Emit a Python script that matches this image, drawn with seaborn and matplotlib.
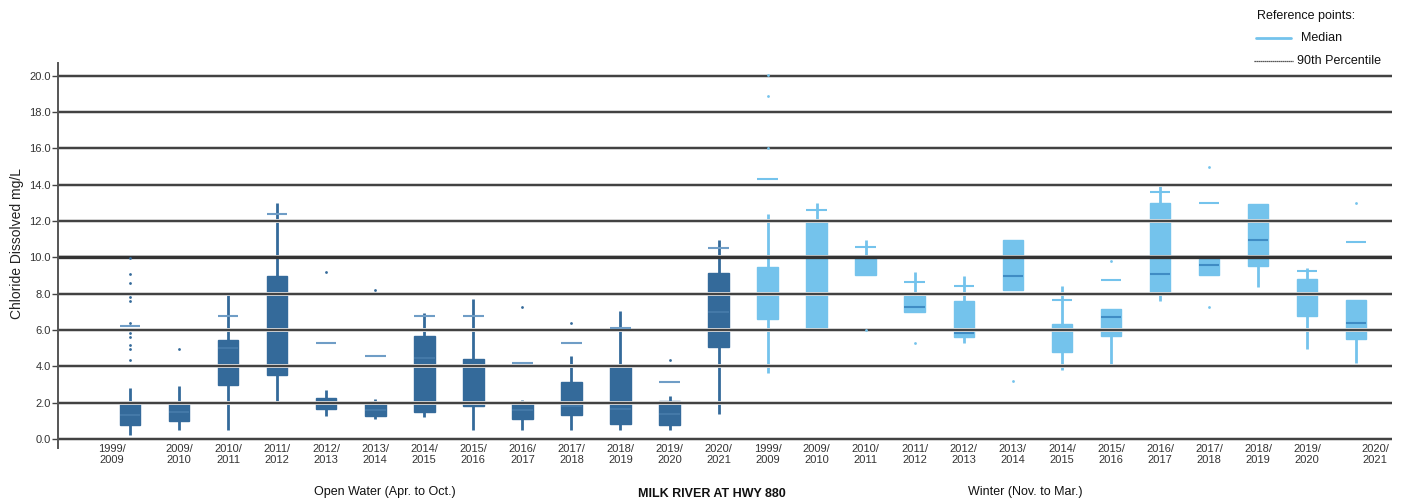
import numpy as np
import pandas as pd
import matplotlib
matplotlib.use("Agg")
import matplotlib.pyplot as plt
import matplotlib.transforms as mtransforms
from matplotlib.lines import Line2D
import seaborn as sns

# ---- data -------------------------------------------------------------
season_labels = ["1999/\n2009", "2009/\n2010", "2010/\n2011", "2011/\n2012",
                 "2012/\n2013", "2013/\n2014", "2014/\n2015", "2015/\n2016",
                 "2016/\n2017", "2017/\n2018", "2018/\n2019", "2019/\n2020",
                 "2020/\n2021"]

# Open water (Apr. to Oct.) summaries: whisker low, Q1, median, Q3, whisker high
ow_lo = [0.24, 0.48, 0.48, 2.02, 1.28, 1.10, 1.19, 0.48, 0.48, 0.48, 0.48, 0.48, 1.39]
ow_q1 = [0.79, 1.00, 2.99, 3.50, 1.67, 1.25, 1.47, 1.80, 1.12, 1.34, 0.84, 0.75, 5.05]
ow_med = [1.30, 1.50, 5.00, 6.00, 2.00, 1.60, 4.46, 2.00, 1.60, 1.80, 1.67, 1.38, 7.00]
ow_q3 = [2.04, 1.98, 5.43, 8.95, 2.26, 2.04, 5.69, 4.42, 1.94, 3.14, 4.06, 2.07, 9.14]
ow_hi = [2.80, 2.94, 7.94, 12.99, 2.68, 2.20, 6.94, 7.71, 2.17, 4.55, 7.03, 2.35, 10.97]
ow_p90 = [6.22, np.nan, 6.75, 12.39, 5.28, 4.59, 6.79, 6.75, 4.18, 5.28, 6.13, 3.16, 10.51]
ow_outliers = {0: [4.37, 4.97, 5.19, 5.60, 5.83, 6.39, 7.58, 7.80, 8.59, 9.10, 9.96],
               1: [4.97], 4: [9.17], 5: [8.18], 8: [7.27], 9: [6.39], 11: [4.37]}

# Winter (Nov. to Mar.) summaries
wi_lo = [3.63, 6.02, 9.00, 6.99, 5.28, 8.22, 3.78, 4.00, 7.58, 9.00, 8.37, 4.97, 4.18]
wi_q1 = [6.61, 6.02, 9.00, 6.99, 5.61, 8.22, 4.79, 5.69, 8.09, 9.00, 9.50, 6.79, 5.50]
wi_med = [8.00, 10.00, 9.95, 7.27, 5.83, 8.99, 6.00, 6.70, 9.10, 9.56, 10.97, 8.00, 6.39]
wi_q3 = [9.47, 11.98, 9.95, 7.85, 7.58, 10.94, 6.35, 7.16, 12.99, 9.93, 12.95, 8.81, 7.67]
wi_hi = [12.39, 12.99, 10.97, 9.17, 8.95, 10.94, 8.44, 7.16, 13.94, 9.93, 12.95, 9.41, 7.67]
wi_p90 = [14.31, 12.62, 10.57, 8.64, 8.40, np.nan, 7.67, 8.77, 13.58, 12.99, np.nan, 9.27, 10.86]
wi_outliers = {0: [16.00, 18.90, 20.05], 2: [5.98], 3: [5.28], 5: [3.17],
               7: [9.78], 9: [14.97, 7.27], 12: [12.99]}

DARK = "#346a9a"
DARK_MED = "#4479a8"
DARK_P90 = "#6f9dc6"
LIGHT = "#74c3ec"
LIGHT_MED = "#3f8cc4"

# ---- figure -----------------------------------------------------------
sns.set_theme(style="white")
plt.rcParams["font.family"] = ["Liberation Sans", "DejaVu Sans"]

fig = plt.figure(figsize=(14.06, 5.04), dpi=100)
ax = fig.add_axes([58 / 1406, 56 / 504, (1392 - 58) / 1406, (448 - 63) / 504])

n = len(season_labels)
groups = [
    (np.arange(n), ow_lo, ow_q1, ow_med, ow_q3, ow_hi, ow_p90, ow_outliers,
     DARK, DARK_MED, DARK_P90),
    (np.arange(n) + n, wi_lo, wi_q1, wi_med, wi_q3, wi_hi, wi_p90, wi_outliers,
     LIGHT, LIGHT_MED, LIGHT),
]

for pos, lo, q1, med, q3, hi, p90, outl, col, medcol, p90col in groups:
    rows = []
    for p, a, b, c, d, e in zip(pos, lo, q1, med, q3, hi):
        for v in (a, b, c, d, e):
            rows.append({"pos": p, "value": v})
    df = pd.DataFrame(rows)
    sns.boxplot(data=df, x="pos", y="value", native_scale=True, ax=ax,
                color=col, linecolor=col, saturation=1, width=0.42,
                whis=(0, 100), showcaps=False, showfliers=False, linewidth=1,
                whiskerprops={"linewidth": 2},
                medianprops={"color": medcol, "linewidth": 1.5})
    # 90th percentile reference marks
    p90 = np.asarray(p90, dtype=float)
    ok = ~np.isnan(p90)
    ax.hlines(p90[ok], pos[ok] - 0.21, pos[ok] + 0.21, colors=p90col,
              linewidth=1.5, zorder=4)
    # outlying samples
    ox = [pos[i] for i, vals in outl.items() for _ in vals]
    oy = [v for vals in outl.values() for v in vals]
    ax.scatter(ox, oy, s=4, color=col, linewidths=0, zorder=4)

# horizontal reference grid drawn over the boxes
yticks = np.arange(0, 20.1, 2.0)
for y in yticks:
    ax.axhline(y, color="#d0d0d0", lw=2.8, zorder=2.4)
    ax.axhline(y, color="#333333", lw=2.4 if y == 10 else 1.3, zorder=2.5)

ax.set_xlim(-1.468, 25.73)
ax.set_ylim(-0.5, 20.7)
ax.set_yticks(yticks)
ax.set_yticklabels([f"{y:.1f}" for y in yticks])
ax.set_xticks(np.arange(2 * n))
ax.set_xticklabels(season_labels + season_labels)
ax.set_xlabel("")
ax.set_ylabel("")

ax.tick_params(axis="x", length=0, pad=-3, labelsize=8, labelcolor="#333333")
ax.tick_params(axis="y", left=True, length=4, width=1, color="#444444", pad=1,
               labelsize=8, labelcolor="#333333")
for side in ("top", "right", "bottom"):
    ax.spines[side].set_visible(False)
ax.spines["left"].set_color("#555555")
ax.spines["left"].set_linewidth(1.4)

# first and last season labels sit slightly outside their boxes
xlabels = ax.get_xticklabels()
for lab, dx in ((xlabels[0], -18), (xlabels[-1], 19)):
    off = mtransforms.ScaledTranslation(dx / 100, 0, fig.dpi_scale_trans)
    lab.set_transform(lab.get_transform() + off)

# axis title and section captions
fig.text(17 / 1406, 1 - 243 / 504, "Chloride Dissolved mg/L", rotation=90,
         ha="center", va="center", fontsize=10, color="#222222")
fig.text(385 / 1406, 1 - 492 / 504, "Open Water (Apr. to Oct.)", ha="center",
         va="center", fontsize=9, color="#111111")
fig.text(712 / 1406, 1 - 494 / 504, "MILK RIVER AT HWY 880", ha="center",
         va="center", fontsize=9, fontweight="bold", color="#111111")
fig.text(1025 / 1406, 1 - 492 / 504, "Winter (Nov. to Mar.)", ha="center",
         va="center", fontsize=9, color="#111111")

# reference-point key
fig.text(1257 / 1406, 1 - 16 / 504, "Reference points:", ha="left",
         va="center", fontsize=9, color="#111111")
fig.add_artist(Line2D([1256 / 1406, 1291 / 1406], [1 - 38 / 504] * 2,
                      color=LIGHT, lw=2, transform=fig.transFigure))
fig.text(1301 / 1406, 1 - 38 / 504, "Median", ha="left", va="center",
         fontsize=9, color="#111111")
fig.add_artist(Line2D([1254 / 1406, 1293 / 1406], [1 - 61 / 504] * 2,
                      color="#222222", lw=0.9, ls=(0, (1, 0.6)),
                      transform=fig.transFigure))
fig.text(1297 / 1406, 1 - 61 / 504, "90th Percentile", ha="left", va="center",
         fontsize=9, color="#111111")

fig.savefig("out.png", dpi=100)
